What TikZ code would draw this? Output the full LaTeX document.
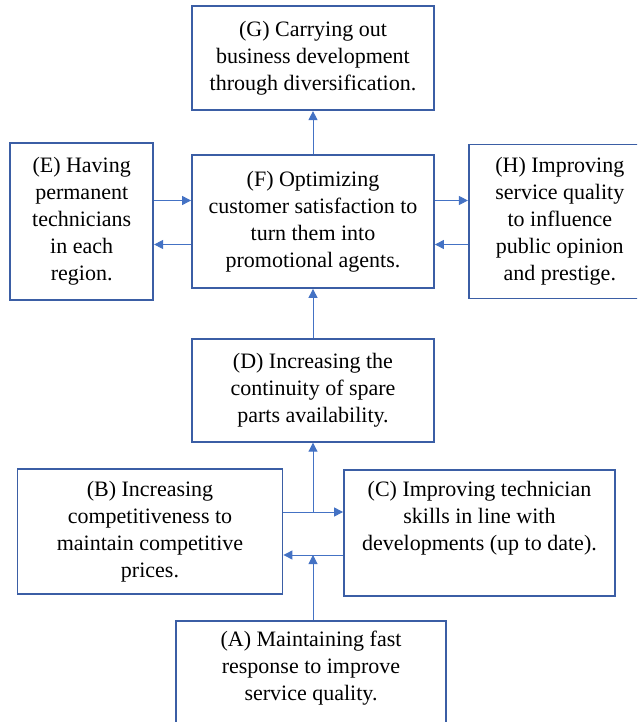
\documentclass[tikz,border=0pt]{standalone}
\usepackage{fontspec}
\setmainfont{Liberation Serif}
\newfontfamily\boxfont{Liberation Serif}
\usepackage{xcolor}
\usepackage{tikz}
\usetikzlibrary{positioning, arrows.meta}
\definecolor{boxblue}{RGB}{59,94,165}
\definecolor{lineblue}{RGB}{68,114,196}
\tikzset{
  unit/.style={draw=boxblue, line width=1.8pt, align=center, inner sep=0pt, font=\boxfont\fontsize{22}{27}\selectfont},
  link/.style={draw=lineblue, line width=1pt, -{Triangle[length=9pt,width=9pt]}}
}

\begin{document}
\begin{tikzpicture}[x=1pt, y=-1pt]
\clip (0,0) rectangle (637,722);
\node[unit, minimum width=242pt, minimum height=133pt] (unit_f) at (313,221.5) {(F) Optimizing\\customer satisfaction to\\turn them into\\promotional agents.};
\node[unit, minimum width=242pt, minimum height=104pt] (unit_g) [above=43pt of unit_f] {(G) Carrying out\\business development\\through diversification.};
\node[unit, minimum width=143pt, minimum height=157pt] (unit_e) [left=37pt of unit_f] {(E) Having\\permanent\\technicians\\in each\\region.};
\node[unit, minimum width=182pt, minimum height=154pt] (unit_h) [right=33pt of unit_f] {(H) Improving\\service quality\\to influence\\public opinion\\and prestige.};
\node[unit, minimum width=242pt, minimum height=103pt] (unit_d) [below=49pt of unit_f] {(D) Increasing the\\continuity of spare\\parts availability.};
\node[unit, minimum width=265pt, minimum height=125pt] (unit_b) at (150,531.5) {(B) Increasing\\competitiveness to\\maintain competitive\\prices.};
\node[unit, minimum width=271pt, minimum height=126pt] (unit_c) at (479.5,533) {(C) Improving technician\\skills in line with\\developments (up to date).\\\strut};
\node[unit, minimum width=270pt, minimum height=125pt] (unit_a) at (311,683.5) {(A) Maintaining fast\\response to improve\\service quality.\\\strut};
\coordinate (f_up) at ([yshift=21pt]unit_f.west);
\coordinate (f_dn) at ([yshift=-23pt]unit_f.west);
\coordinate (b_out) at ([yshift=19.5pt]unit_b.east);
\coordinate (c_out) at ([yshift=-22pt]unit_c.west);
\draw[link] (unit_f.north) -- (unit_f.north |- unit_g.south);
\draw[link] (unit_e.east |- f_up) -- (f_up);
\draw[link] (f_dn) -- (unit_e.east |- f_dn);
\draw[link] (f_up -| unit_f.east) -- (f_up -| unit_h.west);
\draw[link] (f_dn -| unit_h.west) -- (f_dn -| unit_f.east);
\draw[link] (unit_d.north) -- (unit_f.south);
\draw[link] (b_out) -- (b_out -| unit_c.west);
\draw[link] (b_out -| unit_d.south) -- (unit_d.south);
\draw[link] (c_out) -- (c_out -| unit_b.east);
\draw[link] (unit_d.south |- unit_a.north) -- (unit_d.south |- c_out);
\end{tikzpicture}
\end{document}
